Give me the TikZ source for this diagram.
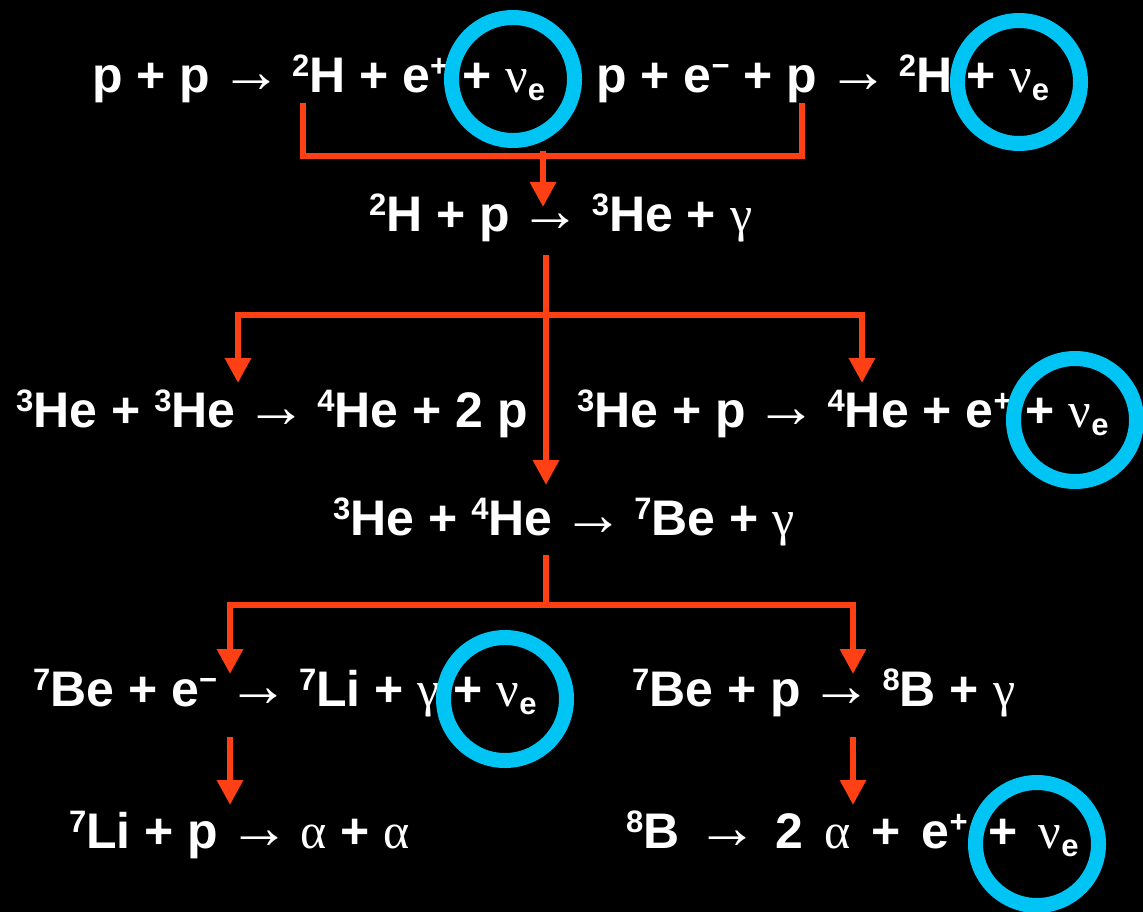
\documentclass[tikz,border=0pt]{standalone}
\usepackage{fontspec}
\setmainfont{Liberation Sans}
\newfontfamily\greekfam{Liberation Serif}
\usetikzlibrary{arrows.meta}
\definecolor{bgBlack}{HTML}{000000}
\definecolor{flowRed}{HTML}{FF4015}
\definecolor{nuCyan}{HTML}{00C4F4}
\newcommand{\supnum}[1]{\raisebox{16pt}{\fontsize{31}{31}\selectfont #1}}
\newcommand{\subnum}[1]{\raisebox{-8pt}{\fontsize{31}{31}\selectfont #1}}
\newcommand{\gk}[1]{{\greekfam\mdseries #1}}
\newcommand{\yields}{\hspace{-4pt}{\greekfam\mdseries\fontsize{62}{62}\selectfont →}\hspace{-4pt}}
\newcommand{\nue}{\gk{ν}\subnum{e}}
\newcommand{\widespaces}{\spaceskip=21pt\relax}

\begin{document}
\begin{tikzpicture}[x=1pt, y=-1pt,
  rxn/.style={anchor=base west, inner sep=0pt, text=white, font=\fontsize{50}{60}\selectfont\bfseries},
  flow/.style={draw=flowRed, line width=6pt},
  headed/.style={-{Triangle[length=25pt, width=25pt]}},
  forked/.style={{Triangle[length=25pt, width=25pt]}-{Triangle[length=25pt, width=25pt]}},
  nuring/.style={circle, draw=nuCyan, line width=15pt, minimum size=123pt, inner sep=0pt}]
\useasboundingbox (0,0) rectangle (1143,912);
\fill[bgBlack] (0,0) rectangle (1143,912);
% reactions
\node[rxn] (pp) at (92,93) {p + p \yields{} \supnum{2}H + e\supnum{+} + \nue};
\node[rxn] (pep) at (596,93) {p + e\supnum{−} + p \yields{} \supnum{2}H + \nue};
\node[rxn] (dp) at (369,232) {\supnum{2}H + p \yields{} \supnum{3}He + \gk{γ}};
\node[rxn] (hehe) at (16,427) {\supnum{3}He + \supnum{3}He \yields{} \supnum{4}He + 2 p};
\node[rxn] (hep) at (577,427) {\supnum{3}He + p \yields{} \supnum{4}He + e\supnum{+} + \nue};
\node[rxn] (hehefour) at (333,535) {\supnum{3}He + \supnum{4}He \yields{} \supnum{7}Be + \gk{γ}};
\node[rxn] (bee) at (33,706) {\supnum{7}Be + e\supnum{−} \yields{} \supnum{7}Li + \gk{γ} + \nue};
\node[rxn] (bep) at (632,706) {\supnum{7}Be + p \yields{} \supnum{8}B + \gk{γ}};
\node[rxn] (lip) at (69,848) {\supnum{7}Li + p \yields{} \gk{α} + \gk{α}};
\node[rxn] (bdec) at (626,848) {\widespaces\supnum{8}B \yields{} 2 \gk{α} + e\supnum{+} + \nue};
% connector ends
\coordinate (ppFoot) at (303,103); \coordinate (pepFoot) at (802,103);
\coordinate (ppJoin) at (543,151); \coordinate (dpTop) at (543,207);
\coordinate (dpFoot) at (546,255); \coordinate (forkA) at (546,315);
\coordinate (heheTop) at (238,383); \coordinate (hepTop) at (862,383);
\coordinate (hehefourTop) at (546,485); \coordinate (hehefourFoot) at (546,555);
\coordinate (forkB) at (546,605);
\coordinate (beeTop) at (230,674); \coordinate (bepTop) at (853,674);
\coordinate (beeFoot) at (230,737); \coordinate (lipTop) at (230,805);
\coordinate (bepFoot) at (853,737); \coordinate (bdecTop) at (853,805);
% connectors
\draw[flow] (ppFoot) -- ++(0,53) -| (pepFoot);
\draw[flow, headed] (ppJoin) -- (dpTop);
\draw[flow, headed] (dpFoot) -- (hehefourTop);
\draw[flow, forked] (heheTop) |- (forkA) -| (hepTop);
\draw[flow] (hehefourFoot) -- (forkB);
\draw[flow, forked] (beeTop) |- (forkB) -| (bepTop);
\draw[flow, headed] (beeFoot) -- (lipTop);
\draw[flow, headed] (bepFoot) -- (bdecTop);
% neutrinos
\node[nuring] (ringA) at (513,79) {};
\node[nuring] (ringB) at (1019,82) {};
\node[nuring] (ringC) at (1075,420) {};
\node[nuring] (ringD) at (505,699) {};
\node[nuring] (ringE) at (1037,844) {};
\end{tikzpicture}
\end{document}
